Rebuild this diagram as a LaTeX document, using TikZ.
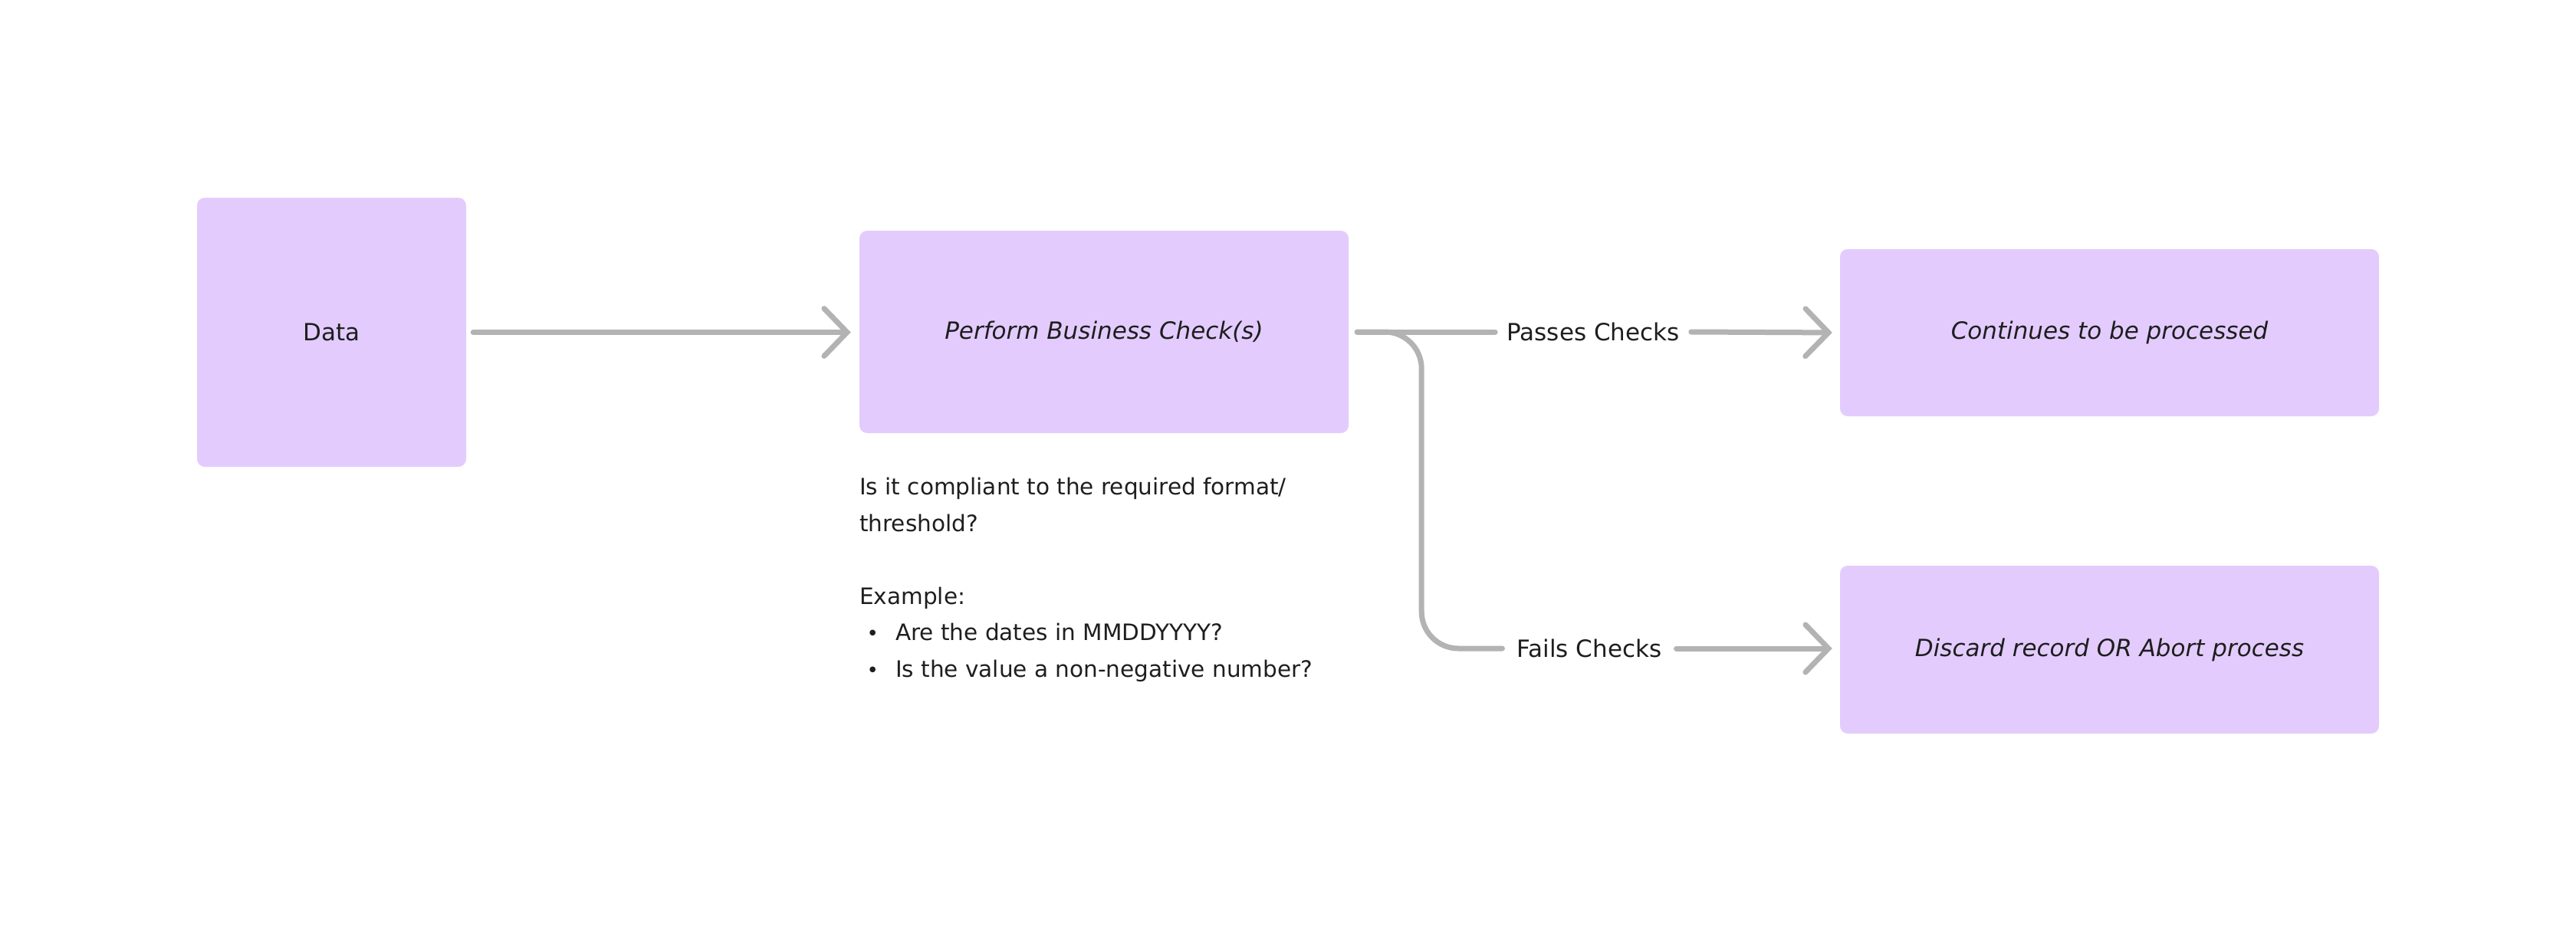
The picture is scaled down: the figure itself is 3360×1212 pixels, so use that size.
\documentclass[tikz,border=0pt]{standalone}
\usepackage{fontspec}
\setmainfont{DejaVu Sans}
\usetikzlibrary{arrows.meta}
\definecolor{boxfill}{HTML}{E3CCFD}
\definecolor{linegray}{HTML}{B3B3B3}
\definecolor{ink}{HTML}{1E1E1E}
\begin{document}
\begin{tikzpicture}[x=1pt,y=-1pt,
  box/.style={fill=boxfill, rounded corners=10pt, inner sep=0pt, text=ink, font=\fontsize{31}{37}\selectfont},
  conn/.style={draw=linegray, line width=7pt, line cap=round, line join=round},
  arr/.style={conn, -{Straight Barb[length=30pt,width=62pt,line cap=round]}},
  lbl/.style={font=\fontsize{31}{37}\selectfont, text=ink, inner xsep=15pt, inner ysep=0pt}]
\useasboundingbox (0,0) rectangle (3360,1212);
\path[fill=white] (0,0) rectangle (3360,1212);

\node[box, minimum width=351pt, minimum height=351pt] (data) at (432.5,433.5) {Data};
\node[box, minimum width=638pt, minimum height=264pt] (perform) at (1440,433) {\itshape Perform Business Check(s)};
\node[box, minimum width=703pt, minimum height=218pt] (continues) at (2751.5,434) {\itshape Continues to be processed};
\node[box, minimum width=703pt, minimum height=219pt] (discard) at (2751.5,847.5) {\itshape Discard record OR Abort process};

\node[lbl] (passes) at (2078,433) {Passes Checks};
\node[lbl, inner xsep=19pt] (fails) at (2073,846) {Fails Checks};

\node[anchor=north west, inner sep=0pt, align=left, text=ink, font=\fontsize{29.5}{47.5}\selectfont] (note) at (1121,623)
 {Is it compliant to the required format/\\
  threshold?\\[47.5pt]
  Example:\\
  \hspace*{12pt}{\fontsize{26}{26}\selectfont\makebox[10pt]{•}}\hspace*{25pt}Are the dates in MMDDYYYY?\\
  \hspace*{12pt}{\fontsize{26}{26}\selectfont\makebox[10pt]{•}}\hspace*{25pt}Is the value a non-negative number?};

\draw[arr, shorten <=9pt, shorten >=11pt] (data.east) -- (data.east -| perform.west);
\draw[conn] ([xshift=11pt]perform.east) -- (passes.west);
\draw[arr, shorten >=10pt] (passes.east) -- (continues.west);
\draw[conn, rounded corners=48pt] ([xshift=11pt]perform.east) -- ++(84,0) |- (fails.west);
\draw[arr, shorten >=10pt] (fails.east) -- (fails.east -| discard.west);
\end{tikzpicture}
\end{document}
